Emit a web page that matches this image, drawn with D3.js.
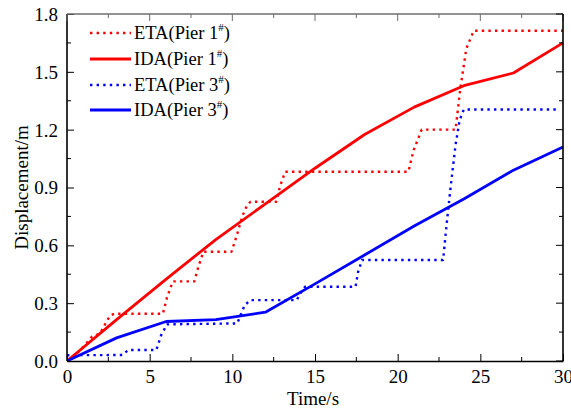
<!DOCTYPE html>
<html>
<head>
<meta charset="utf-8">
<script src="https://cdn.jsdelivr.net/npm/d3@7"></script>
<style>
  html, body { margin: 0; padding: 0; background: #fff; }
  svg { display: block; }
  svg text { font-family: 'Liberation Serif', 'Times New Roman', Times, serif !important; fill: #000; }
</style>
</head>
<body>
<svg id="chart" width="571" height="412"></svg>
<script>
// Time-history of pier displacement: ETA vs IDA, piers 1# and 3#
const etaPier1T = [0, 0.5, 1.0, 1.5, 2.0, 2.3, 2.6, 2.85, 5.8, 6.05, 6.4, 7.7, 7.95, 8.25, 9.95, 10.3, 10.6, 10.9, 11.1, 12.65, 12.9, 13.2, 20.65, 20.95, 21.45, 23.5, 23.8, 24.15, 24.6, 30];
const etaPier1V = [0, 0.03, 0.075, 0.125, 0.143, 0.19, 0.235, 0.245, 0.245, 0.33, 0.413, 0.413, 0.49, 0.567, 0.567, 0.66, 0.75, 0.81, 0.826, 0.826, 0.91, 0.982, 0.982, 1.09, 1.2, 1.2, 1.42, 1.62, 1.713, 1.713];

const idaPier1T = [0, 3, 6, 9, 12, 15, 18, 21, 24, 27, 30];
const idaPier1V = [0, 0.215, 0.425, 0.63, 0.815, 1.0, 1.175, 1.317, 1.428, 1.494, 1.65];

const etaPier3T = [0, 3.35, 3.7, 5.4, 5.7, 6.05, 10.3, 10.55, 10.75, 11.1, 13.9, 14.1, 14.4, 17.45, 17.6, 17.85, 22.75, 22.95, 23.2, 23.5, 23.75, 24.0, 29.6];
const etaPier3V = [0.03, 0.031, 0.057, 0.057, 0.135, 0.19, 0.195, 0.25, 0.29, 0.316, 0.316, 0.35, 0.385, 0.385, 0.46, 0.524, 0.524, 0.7, 0.9, 1.12, 1.25, 1.305, 1.305];

const idaPier3T = [0, 3, 6, 9, 12, 15, 18, 21, 24, 27, 30];
const idaPier3V = [0, 0.12, 0.205, 0.215, 0.253, 0.40, 0.55, 0.70, 0.84, 0.99, 1.11];

const xTicks = [0, 5, 10, 15, 20, 25, 30];
const yTicks = [0.0, 0.3, 0.6, 0.9, 1.2, 1.5, 1.8];

const seriesNames = ["ETA(Pier 1", "IDA(Pier 1", "ETA(Pier 3", "IDA(Pier 3"];
const seriesColors = ["#ff0000", "#ff0000", "#0000ff", "#0000ff"];
const seriesDotted = [true, false, true, false];

const FONT = "'Liberation Serif', 'Times New Roman', Times, serif";
const FS = 19;

const svg = d3.select("#chart");
const pLeft = 67, pRight = 563, pTop = 14, pBottom = 361;

const x = d3.scaleLinear().domain([0, 30]).range([pLeft, pRight]);
const y = d3.scaleLinear().domain([0, 1.8]).range([pBottom, pTop]);

const zip = (t, v) => t.map((d, i) => [d, v[i]]);
const series = [
  zip(etaPier1T, etaPier1V),
  zip(idaPier1T, idaPier1V),
  zip(etaPier3T, etaPier3V),
  zip(idaPier3T, idaPier3V)
];

// clip to plot area
svg.append("defs").append("clipPath").attr("id", "plotclip")
  .append("rect").attr("x", pLeft).attr("y", pTop - 2)
  .attr("width", pRight - pLeft + 2).attr("height", pBottom - pTop + 2);

const line = d3.line().x(d => x(d[0])).y(d => y(d[1]));

const plot = svg.append("g").attr("clip-path", "url(#plotclip)");
// dotted series first, then solid on top
[0, 2, 1, 3].forEach(i => {
  plot.append("path")
    .attr("d", line(series[i]))
    .attr("fill", "none")
    .attr("stroke", seriesColors[i])
    .attr("stroke-width", seriesDotted[i] ? 2.4 : 2.8)
    .attr("stroke-dasharray", seriesDotted[i] ? "2.4,4.2" : null)
    .attr("stroke-linejoin", "round");
});

// Axes (ticks point inward)
const xMinor = d3.range(0, 30.01, 2.5);
const yMinor = d3.range(0, 1.801, 0.15);

const bottomAxis = svg.append("g").attr("transform", `translate(0,${pBottom})`)
  .call(d3.axisBottom(x).tickValues(xTicks).tickFormat(d3.format("d")).tickSizeInner(-7).tickSizeOuter(0).tickPadding(9));
const leftAxis = svg.append("g").attr("transform", `translate(${pLeft},0)`)
  .call(d3.axisLeft(y).tickValues(yTicks).tickFormat(d3.format(".1f")).tickSizeInner(-7).tickSizeOuter(0).tickPadding(9));

// minor ticks
svg.append("g").selectAll("line").data(xMinor.filter(v => v % 5 !== 0)).join("line")
  .attr("x1", d => x(d)).attr("x2", d => x(d)).attr("y1", pBottom).attr("y2", pBottom - 4)
  .attr("stroke", "#000").attr("stroke-width", 1);
svg.append("g").selectAll("line").data(yMinor.filter((v, i) => i % 2 === 1)).join("line")
  .attr("x1", pLeft).attr("x2", pLeft + 4).attr("y1", d => y(d)).attr("y2", d => y(d))
  .attr("stroke", "#000").attr("stroke-width", 1);

// top axis (grey) and right axis with inward ticks
svg.append("line").attr("x1", pLeft).attr("x2", pRight).attr("y1", pTop).attr("y2", pTop)
  .attr("stroke", "#6e6e6e").attr("stroke-width", 1.6);
svg.append("g").selectAll("line").data(xMinor).join("line")
  .attr("x1", d => x(d)).attr("x2", d => x(d)).attr("y1", pTop).attr("y2", d => pTop + (d % 5 === 0 ? 7 : 4))
  .attr("stroke", "#6e6e6e").attr("stroke-width", 1);
svg.append("line").attr("x1", pRight).attr("x2", pRight).attr("y1", pTop).attr("y2", pBottom)
  .attr("stroke", "#000").attr("stroke-width", 1.6);
svg.append("g").selectAll("line").data(yMinor).join("line")
  .attr("x1", pRight).attr("x2", (d, i) => pRight - (i % 2 === 0 ? 7 : 4)).attr("y1", d => y(d)).attr("y2", d => y(d))
  .attr("stroke", "#000").attr("stroke-width", 1);

[bottomAxis, leftAxis].forEach(a => {
  a.attr("font-family", FONT).attr("font-size", FS);
  a.select(".domain").attr("stroke", "#000").attr("stroke-width", 1.6);
  a.selectAll(".tick line").attr("stroke", "#000").attr("stroke-width", 1);
  a.selectAll(".tick text").attr("font-size", FS).style("font-family", FONT);
});
leftAxis.select(".domain").attr("d", `M0,${pBottom}V${pTop}`);
leftAxis.selectAll(".tick text").attr("dy", "0.34em");

// Axis titles
svg.append("text").attr("x", (pLeft + pRight) / 2 - 2).attr("y", 405)
  .attr("text-anchor", "middle").attr("font-size", FS).style("font-family", FONT).text("Time/s");
svg.append("text").attr("transform", `translate(28,${(pTop + pBottom) / 2}) rotate(-90)`)
  .attr("text-anchor", "middle").attr("font-size", FS).style("font-family", FONT).text("Displacement/m");

// Legend
const legend = svg.append("g");
const rowY = [33, 59, 85, 110];
seriesNames.forEach((name, i) => {
  legend.append("line")
    .attr("x1", 90).attr("x2", 131).attr("y1", rowY[i]).attr("y2", rowY[i])
    .attr("stroke", seriesColors[i])
    .attr("stroke-width", seriesDotted[i] ? 2.4 : 2.8)
    .attr("stroke-dasharray", seriesDotted[i] ? "2.4,4.2" : null);
  const t = legend.append("text").attr("x", 134).attr("y", rowY[i] + 6)
    .attr("font-size", 18.5).style("font-family", FONT);
  t.append("tspan").text(name);
  t.append("tspan").attr("dy", -8).attr("font-size", 11).text("#");
  t.append("tspan").attr("dy", 8).text(")");
});
</script>
</body>
</html>
